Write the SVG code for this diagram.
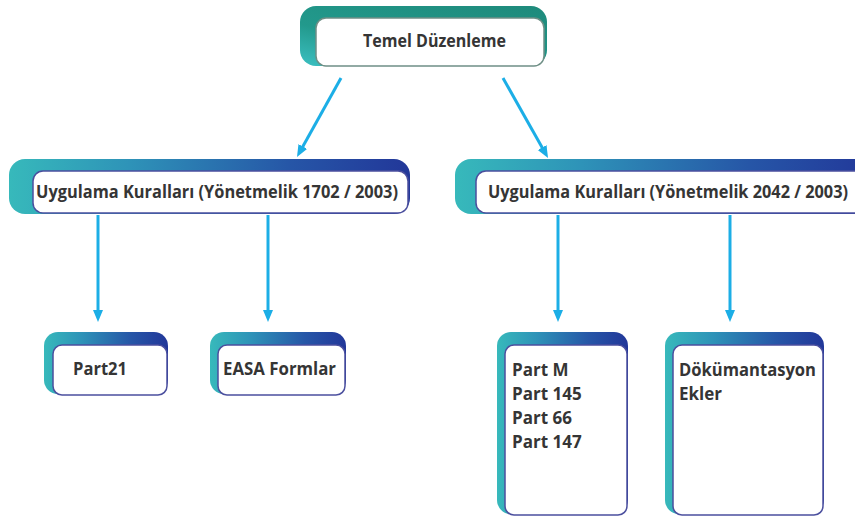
<svg xmlns="http://www.w3.org/2000/svg" width="855" height="519" viewBox="0 0 855 519">
  <defs>
    <linearGradient id="gBlue" x1="0" y1="0" x2="1" y2="0">
      <stop offset="0" stop-color="#37b9bb"/>
      <stop offset="0.3" stop-color="#2e93b8"/>
      <stop offset="0.7" stop-color="#2656a7"/>
      <stop offset="1" stop-color="#223799"/>
    </linearGradient>
    <linearGradient id="gTeal" x1="0" y1="1" x2="1" y2="0">
      <stop offset="0" stop-color="#3cc0c2"/>
      <stop offset="0.35" stop-color="#22998c"/>
      <stop offset="1" stop-color="#1e8a7b"/>
    </linearGradient>
    <marker id="ah" markerUnits="userSpaceOnUse" markerWidth="14" markerHeight="12" refX="4" refY="5" orient="auto">
      <path d="M0,0 L12,5 L0,10 z" fill="#1caee6"/>
    </marker>
  </defs>
  <style>
    .card { fill: #ffffff; stroke: #4b4f9e; stroke-width: 1.5; }
    .cardT { fill: #ffffff; stroke: #6f8f86; stroke-width: 1.5; }
    .back { fill: url(#gBlue); }
    .lbl { font-family: "Open Sans", "Liberation Sans", sans-serif; font-weight: 700; font-size: 17px; fill: #353535; }
    .conn { stroke: #1caee6; stroke-width: 3; fill: none; marker-end: url(#ah); }
  </style>
  <rect width="855" height="519" fill="#ffffff"/>

  <g id="connectors">
    <line class="conn" x1="341" y1="78" x2="300.9" y2="150"/>
    <line class="conn" x1="503" y1="78" x2="544.1" y2="151"/>
    <line class="conn" x1="98" y1="215" x2="98" y2="314"/>
    <line class="conn" x1="268" y1="215" x2="268" y2="314"/>
    <line class="conn" x1="558" y1="215" x2="558" y2="314"/>
    <line class="conn" x1="730" y1="215" x2="730" y2="314"/>
  </g>

  <g id="temel">
    <rect x="300" y="6" width="247" height="60" rx="16" fill="url(#gTeal)"/>
    <rect class="cardT" x="316" y="18" width="228" height="48" rx="10"/>
    <text class="lbl" x="434.5" y="47" text-anchor="middle" textLength="143" lengthAdjust="spacingAndGlyphs">Temel Düzenleme</text>
  </g>

  <g id="kurallar1702">
    <rect class="back" x="9" y="159" width="401" height="55" rx="16"/>
    <rect class="card" x="33" y="171" width="375" height="42" rx="10"/>
    <text class="lbl" x="36" y="198" textLength="362" lengthAdjust="spacingAndGlyphs">Uygulama Kuralları (Yönetmelik 1702 / 2003)</text>
  </g>

  <g id="kurallar2042">
    <rect class="back" x="455" y="159" width="420" height="55" rx="16"/>
    <rect class="card" x="476" y="171" width="400" height="42" rx="10"/>
    <text class="lbl" x="488" y="198" textLength="360" lengthAdjust="spacingAndGlyphs">Uygulama Kuralları (Yönetmelik 2042 / 2003)</text>
  </g>

  <g id="part21">
    <rect class="back" x="44" y="332" width="124" height="62" rx="14"/>
    <rect class="card" x="53" y="345" width="114" height="50" rx="9"/>
    <text class="lbl" x="73" y="375" textLength="54" lengthAdjust="spacingAndGlyphs">Part21</text>
  </g>

  <g id="easa">
    <rect class="back" x="210" y="332" width="136" height="62" rx="14"/>
    <rect class="card" x="218" y="345" width="127" height="50" rx="9"/>
    <text class="lbl" x="223" y="375" textLength="113" lengthAdjust="spacingAndGlyphs">EASA Formlar</text>
  </g>

  <g id="parts">
    <rect class="back" x="497" y="332" width="131" height="182" rx="14"/>
    <rect class="card" x="505" y="345" width="122" height="170" rx="9"/>
    <text class="lbl" x="512" y="376">Part M</text>
    <text class="lbl" x="512" y="400">Part 145</text>
    <text class="lbl" x="512" y="424">Part 66</text>
    <text class="lbl" x="512" y="448">Part 147</text>
  </g>

  <g id="dokumantasyon">
    <rect class="back" x="665" y="332" width="159" height="182" rx="14"/>
    <rect class="card" x="673" y="345" width="150" height="170" rx="9"/>
    <text class="lbl" x="679" y="376" textLength="137" lengthAdjust="spacingAndGlyphs">Dökümantasyon</text>
    <text class="lbl" x="679" y="400">Ekler</text>
  </g>
</svg>
